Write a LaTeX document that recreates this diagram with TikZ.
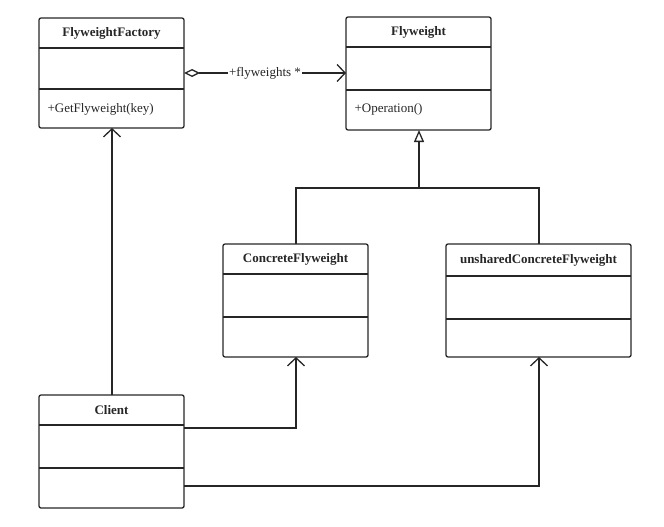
\documentclass[tikz,border=0pt]{standalone}
\usepackage{fontspec}
\setmainfont{Liberation Serif}
\usetikzlibrary{arrows.meta}
\begin{document}
\begin{tikzpicture}[x=1pt,y=-1pt,
  box/.style={draw=black!85,line width=1.3pt,rounded corners=2pt},
  sep/.style={draw=black!85,line width=1.3pt},
  ttl/.style={font=\fontsize{13}{15}\selectfont\bfseries,text=black!85},
  att/.style={font=\fontsize{13}{15}\selectfont,text=black!85,anchor=west},
  con/.style={draw=black!85,line width=1.3pt},
  open/.style={-{Straight Barb[length=8pt,width=17pt,line width=1.3pt]}},
  tri/.style={-{Triangle[open,length=12pt,width=10pt,line width=1.3pt]}}]
\useasboundingbox (0,0) rectangle (664,527);
% Factory
\draw[box] (39,18) rectangle (184,128);
\draw[sep] (39,48)--(184,48) (39,89)--(184,89);
\node[ttl] (fft) at (111.5,33) {FlyweightFactory};
\node[att] (ffa) at (44,109) {+GetFlyweight(key)};
\coordinate (ffR) at (184,73); \coordinate (ffB) at (112,128);
% Flyweight
\draw[box] (346,17) rectangle (491,130);
\draw[sep] (346,47)--(491,47) (346,90)--(491,90);
\node[ttl] (fwt) at (418.5,32) {Flyweight};
\node[att] (fwa) at (351,109) {+Operation()};
\coordinate (fwL) at (346,73); \coordinate (fwB) at (419,130);
% Concrete
\draw[box] (223,244) rectangle (368,357);
\draw[sep] (223,274)--(368,274) (223,317)--(368,317);
\node[ttl] (cft) at (295.5,259) {ConcreteFlyweight};
\coordinate (cfT) at (296,244); \coordinate (cfB) at (296,357);
% Unshared
\draw[box] (446,244) rectangle (631,357);
\draw[sep] (446,276)--(631,276) (446,319)--(631,319);
\node[ttl] (uft) at (538.5,260) {unsharedConcreteFlyweight};
\coordinate (ufT) at (539,244); \coordinate (ufB) at (539,357);
% Client
\draw[box] (39,395) rectangle (184,508);
\draw[sep] (39,425)--(184,425) (39,468)--(184,468);
\node[ttl] (clt) at (111.5,410) {Client};
\coordinate (clT) at (112,395);
\coordinate (clR1) at (184,428); \coordinate (clR2) at (184,486);
% aggregation
\node[font=\fontsize{13}{15}\selectfont,text=black!85,fill=white,inner sep=1pt] (lab) at (265,73) {+flyweights *};
\draw[con,{Diamond[open,length=16pt,width=8pt,line width=1.3pt]}-] (ffR) -- (lab.west);
\draw[con,open] (lab.east) -- (fwL);
% inheritance
\coordinate (j) at (419,188);
\draw[con] (cfT) |- (j) -| (ufT);
\draw[con,tri] (j) -- (fwB);
% client deps
\draw[con,open] (clT) -- (ffB);
\draw[con,open] (clR1) -| (cfB);
\draw[con,open] (clR2) -| (ufB);
\end{tikzpicture}
\end{document}
